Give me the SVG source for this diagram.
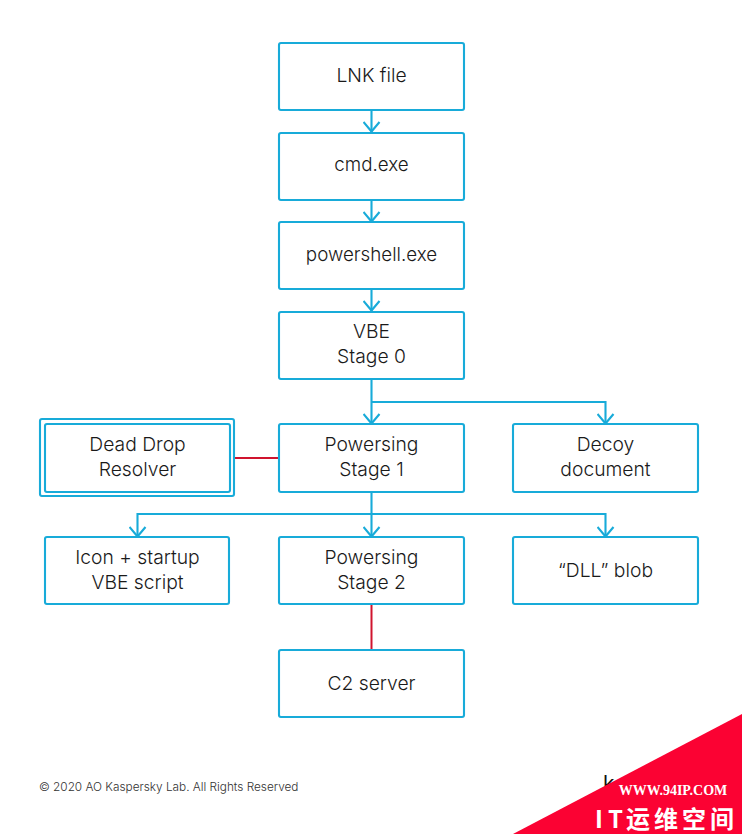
<svg xmlns="http://www.w3.org/2000/svg" width="742" height="834" viewBox="0 0 742 834">
<style>
.box{fill:#fff;stroke:#18abd9;stroke-width:2.100;}
.t{font-family:"Inter","Liberation Sans",sans-serif;font-weight:300;font-size:19.300px;fill:#1a1a1a;text-anchor:middle;}
.w{font-size:18.800px;}
.c{fill:none;stroke:#18abd9;stroke-width:2.100;}
.r{fill:none;stroke:#d0142e;stroke-width:2;}
</style>
<defs>
<marker id="a" markerUnits="userSpaceOnUse" markerWidth="24" markerHeight="18" refX="18" refY="9" orient="auto"><path d="M8 1 L17.500 9 L8 17" fill="none" stroke="#18abd9" stroke-width="2.100"/></marker>
</defs>
<rect width="742" height="834" fill="#fff"/>
<g id="connectors">
<path class="c" d="M371.500 110V132" marker-end="url(#a)"/>
<path class="c" d="M371.500 200V222" marker-end="url(#a)"/>
<path class="c" d="M371.500 289V311" marker-end="url(#a)"/>
<path class="c" d="M371.500 379V424" marker-end="url(#a)"/>
<path class="c" d="M371.500 402H605.500V424" marker-end="url(#a)"/>
<path class="c" d="M371.500 492V537" marker-end="url(#a)"/>
<path class="c" d="M371.500 514H137.500V537" marker-end="url(#a)"/>
<path class="c" d="M371.500 514H605.500V537" marker-end="url(#a)"/>
<path class="r" d="M235 458H279"/>
<path class="r" d="M371.500 604V650"/>
</g>
<g id="lnk"><rect class="box" x="279" y="43" width="185" height="67" rx="2"/><text class="t" x="371.500" y="82">LNK file</text></g>
<g id="cmd"><rect class="box" x="279" y="133" width="185" height="67" rx="2"/><text class="t w" x="371.500" y="171">cmd.exe</text></g>
<g id="powershell"><rect class="box" x="279" y="222" width="185" height="67" rx="2"/><text class="t w" x="371.500" y="261">powershell.exe</text></g>
<g id="vbe"><rect class="box" x="279" y="312" width="185" height="67" rx="2"/><text class="t" x="371.500" y="338">VBE</text><text class="t" x="371.500" y="363">Stage 0</text></g>
<g id="resolver"><rect class="box" x="40" y="419" width="194" height="77" rx="2"/><rect class="box" x="45" y="424" width="185" height="68" rx="2"/><text class="t" x="137.500" y="451">Dead Drop</text><text class="t" x="137.500" y="476">Resolver</text></g>
<g id="stage1"><rect class="box" x="279" y="424" width="185" height="68" rx="2"/><text class="t" x="371.500" y="451">Powersing</text><text class="t" x="371.500" y="476">Stage 1</text></g>
<g id="decoy"><rect class="box" x="513" y="424" width="185" height="68" rx="2"/><text class="t" x="605.500" y="451">Decoy</text><text class="t" x="605.500" y="476">document</text></g>
<g id="icon"><rect class="box" x="45" y="537" width="184" height="67" rx="2"/><text class="t" x="137.500" y="564">Icon + startup</text><text class="t" x="137.500" y="589">VBE script</text></g>
<g id="stage2"><rect class="box" x="279" y="537" width="185" height="67" rx="2"/><text class="t" x="371.500" y="564">Powersing</text><text class="t" x="371.500" y="589">Stage 2</text></g>
<g id="dll"><rect class="box" x="513" y="537" width="185" height="67" rx="2"/><text class="t" x="605.500" y="577">“DLL” blob</text></g>
<g id="c2"><rect class="box" x="279" y="650" width="185" height="67" rx="2"/><text class="t" x="371.500" y="690">C2 server</text></g>
<text x="39" y="791" font-family="Inter,'Liberation Sans',sans-serif" font-weight="300" font-size="11.800" fill="#333">© 2020 AO Kaspersky Lab. All Rights Reserved</text>
<text x="603" y="791" font-family="Inter,'Liberation Sans',sans-serif" font-weight="400" font-size="21" fill="#111">k</text>
<path d="M513 834L742 714V834Z" fill="#fb0233"/>
<text x="673" y="795" font-family="'Liberation Serif',serif" font-weight="700" font-size="14" fill="#fff" text-anchor="middle">WWW.94IP.COM</text>
<text x="595 608 626 654 682 710" y="828" font-family="'Noto Sans CJK SC',sans-serif" font-weight="700" font-size="24" fill="#fff">IT运维空间</text>
</svg>
